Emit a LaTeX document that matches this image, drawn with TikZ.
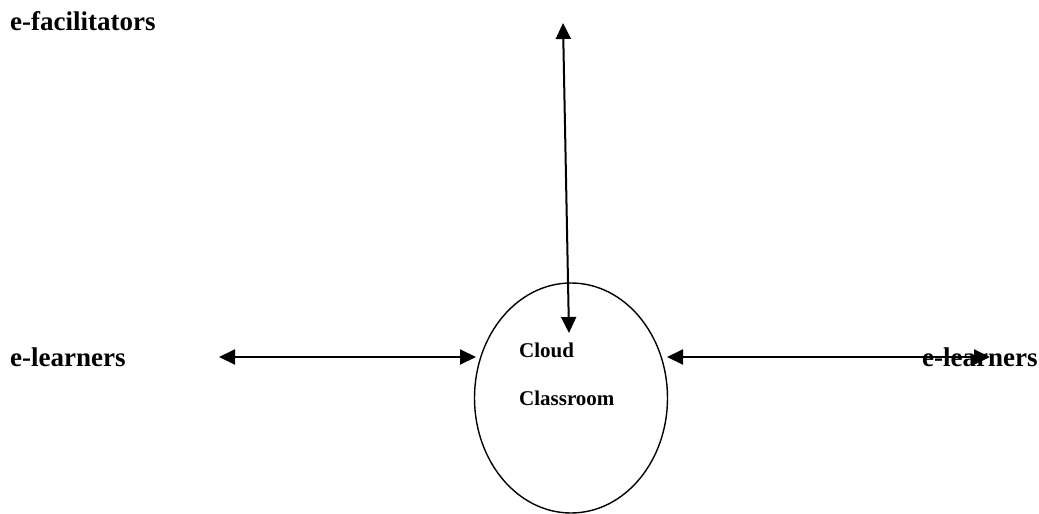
\documentclass[tikz,border=0pt]{standalone}
\usepackage{fontspec}
\setmainfont{Liberation Serif}
\usetikzlibrary{arrows.meta,shapes.geometric}
\begin{document}
\begin{tikzpicture}[x=1pt,y=-1pt,
  lbl/.style={anchor=base west,inner sep=0pt,font=\fontsize{27}{32}\selectfont\bfseries},
  inlbl/.style={anchor=base west,inner sep=0pt,font=\fontsize{21}{25}\selectfont\bfseries},
  conn/.style={line width=2pt,{Triangle[length=16pt,width=15pt]}-{Triangle[length=16pt,width=15pt]}}]
\useasboundingbox (0,0) rectangle (1039,514);
\node[draw,line width=1.4pt,ellipse,minimum width=193pt,minimum height=230pt,inner sep=0pt] (cloud) at (571,398) {};
\node[lbl] (fac) at (10,30) {e-facilitators};
\node[lbl] (learnL) at (10,366) {e-learners};
\node[lbl] (learnR) at (922,366) {e-learners};
\node[inlbl] (c1) at (519,357) {Cloud};
\node[inlbl] (c2) at (519,405) {Classroom};
\coordinate (topEnd) at (563,23);
\coordinate (topIn) at (569,333);
\coordinate (lEnd) at (219,357);
\coordinate (lIn) at (476,357);
\coordinate (rIn) at (667,357);
\coordinate (rEnd) at (990,357);
\draw[conn] (topEnd) -- (topIn);
\draw[conn] (lEnd) -- (lIn);
\draw[conn] (rIn) -- (rEnd);
\end{tikzpicture}
\end{document}
